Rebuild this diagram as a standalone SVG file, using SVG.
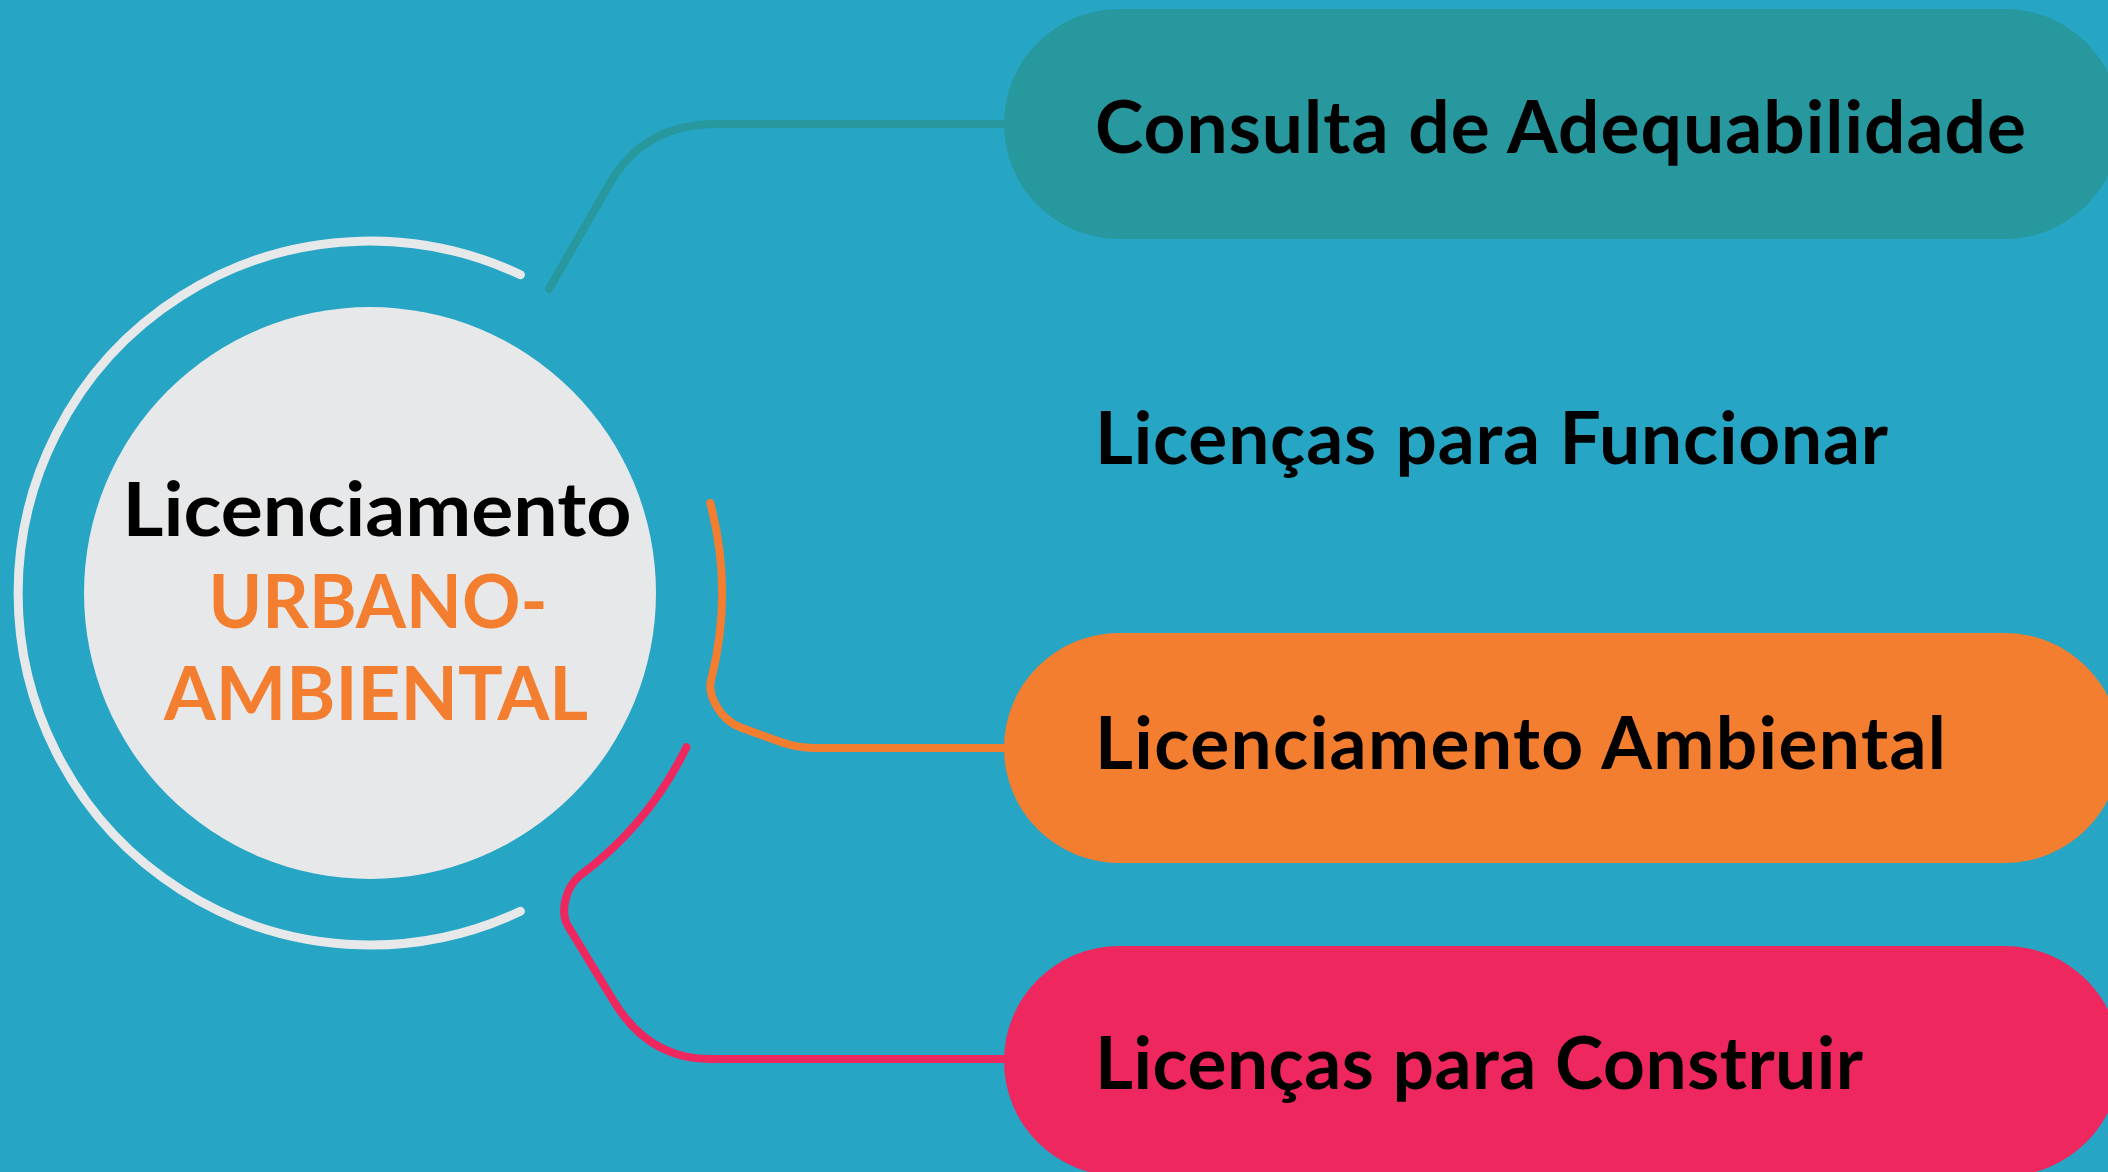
<svg xmlns="http://www.w3.org/2000/svg" width="2108" height="1172" viewBox="0 0 2108 1172">
<style>
.bg{fill:#26A5C4}
.ring{fill:none;stroke:#E6E8EA;stroke-width:9;stroke-linecap:round}
.conn{fill:none;stroke-width:8;stroke-linecap:round;stroke-linejoin:round}
.lbl{font-family:Lato,"Open Sans","Liberation Sans",sans-serif;font-weight:700;font-size:73px;fill:#000}
.ctr{font-family:Lato,"Open Sans","Liberation Sans",sans-serif;font-weight:700;font-size:75px;text-anchor:middle}
.teal{fill:#26989E}
.orange{fill:#F47E30}
.pink{fill:#EE285F}
</style>
<rect class="bg" x="0" y="0" width="2108" height="1172"/>
<g id="connectors">
  <path class="conn" stroke="#26989E" d="M 549 289 L 610 183 Q 644 124 717 124 H 1010"/>
  <path class="conn" stroke="#F47E30" d="M 710.3 503.1 A 352 352 0 0 1 711.1 680 C 707.5 693.6 718.5 719.5 742 728 L 780 741.8 Q 797 748 815 748 H 1010"/>
  <path class="conn" stroke="#EE285F" d="M 686.4 747.2 A 352 352 0 0 1 579.4 876 C 567 886.5 559 910.5 568 926 L 613 1000 Q 648 1059 710 1059 H 1010"/>
</g>
<g id="center">
  <path class="ring" d="M 520.4 274.7 A 352 352 0 1 0 520.4 911.3"/>
  <circle cx="370" cy="593" r="286" fill="#E6E8EA"/>
  <text class="ctr" x="377" y="536" textLength="509" lengthAdjust="spacingAndGlyphs" fill="#000">Licenciamento</text>
  <text class="ctr" x="378" y="628" textLength="339" lengthAdjust="spacingAndGlyphs" fill="#F47E30">URBANO-</text>
  <text class="ctr" x="376" y="720" textLength="424" lengthAdjust="spacingAndGlyphs" fill="#F47E30">AMBIENTAL</text>
</g>
<g id="node-consulta">
  <rect class="teal" x="1004" y="9" width="1116" height="230" rx="115" ry="115"/>
  <text class="lbl" x="1095" y="153" textLength="931">Consulta de Adequabilidade</text>
</g>
<g id="node-funcionar">
  <text class="lbl" x="1095" y="464" textLength="793">Licenças para Funcionar</text>
</g>
<g id="node-ambiental">
  <rect class="orange" x="1004" y="633" width="1116" height="230" rx="115" ry="115"/>
  <text class="lbl" x="1095" y="769" textLength="851">Licenciamento Ambiental</text>
</g>
<g id="node-construir">
  <rect class="pink" x="1004" y="946" width="1116" height="230" rx="115" ry="115"/>
  <text class="lbl" x="1095" y="1089" textLength="768">Licenças para Construir</text>
</g>
</svg>
